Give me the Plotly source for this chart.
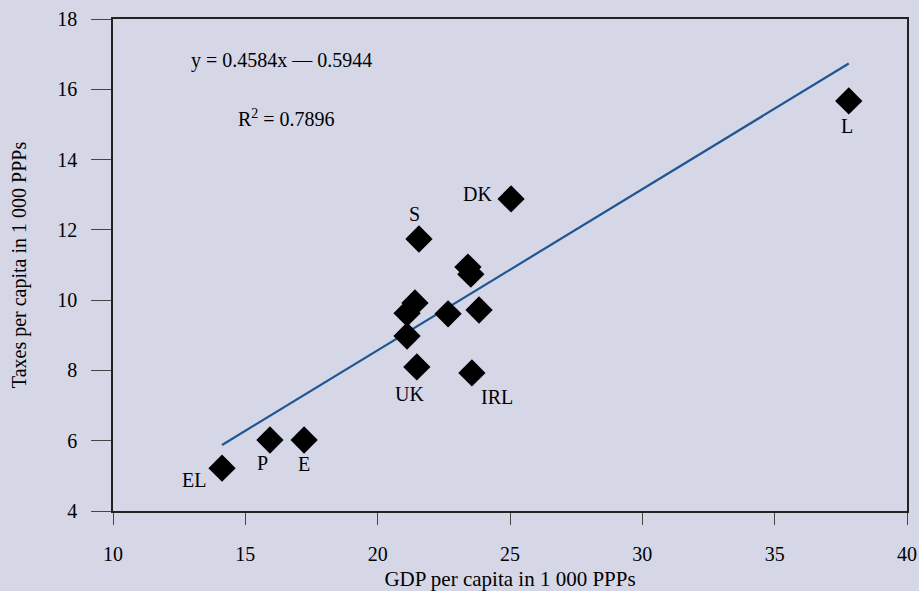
import plotly.graph_objects as go

gdp = [14.12, 15.93, 17.22, 21.48, 23.56, 21.56, 25.04, 37.80,
       23.41, 23.52, 21.41, 21.11, 22.66, 23.83, 21.11]
taxes = [5.22, 6.02, 6.02, 8.10, 7.93, 11.74, 12.88, 15.67,
         10.94, 10.74, 9.92, 9.63, 9.61, 9.72, 8.98]
labels = ["EL", "P", "E", "UK", "IRL", "S", "DK", "L",
          "", "", "", "", "", "", ""]
slope = 0.4584
intercept = -0.5944
x_ticks = [10, 15, 20, 25, 30, 35, 40]
y_ticks = [4, 6, 8, 10, 12, 14, 16, 18]

# label offsets in pixels (dx, dy)
offsets = {"EL": (-28, -12), "P": (-7, -23), "E": (0, -24), "UK": (-7, -27),
           "IRL": (25, -24), "S": (-4, 25), "DK": (-34, 5), "L": (-2, -25)}

bg = "#d5d7e7"
font = "Liberation Serif, Times New Roman, serif"
fs = 20

fig = go.Figure()
xmin, xmax = min(gdp), max(gdp)
fig.add_trace(go.Scatter(
    x=[xmin, xmax], y=[slope * xmin + intercept, slope * xmax + intercept],
    mode="lines", line=dict(color="#1f5592", width=2.2), hoverinfo="skip"))
fig.add_trace(go.Scatter(
    x=gdp, y=taxes, mode="markers",
    marker=dict(symbol="diamond", size=21, color="black", line=dict(width=0))))

for x, y, lab in zip(gdp, taxes, labels):
    if lab:
        dx, dy = offsets[lab]
        fig.add_annotation(x=x, y=y, text=lab, showarrow=False,
                           xshift=dx, yshift=dy,
                           font=dict(family=font, size=fs, color="black"))

fig.add_annotation(x=16.38, y=16.81, text="y = 0.4584x \u2014 0.5944", showarrow=False,
                   font=dict(family=font, size=fs, color="black"))
fig.add_annotation(x=16.54, y=15.18, text="R<sup>2</sup> = 0.7896", showarrow=False,
                   font=dict(family=font, size=fs, color="black"))

axis_common = dict(showline=True, linecolor="#222", linewidth=1.5, mirror=True,
                   ticks="outside", tickcolor="#444", tickwidth=1.2,
                   showgrid=False, zeroline=False, automargin=False,
                   tickfont=dict(family=font, size=fs, color="black"))

fig.update_xaxes(range=[10, 40], tickvals=x_ticks, ticklen=12, ticklabelstandoff=12,
                 title=dict(text="GDP per capita in 1 000 PPPs", standoff=8,
                            font=dict(family=font, size=21, color="black")),
                 **axis_common)
fig.update_yaxes(range=[4, 18], tickvals=y_ticks, ticklen=20, ticklabelstandoff=10,
                 title=dict(text="Taxes per capita in 1 000 PPPs", standoff=25,
                            font=dict(family=font, size=fs, color="black")),
                 **axis_common)

fig.update_layout(width=919, height=591, paper_bgcolor=bg, plot_bgcolor=bg,
                  showlegend=False, margin=dict(l=113, r=12, t=19, b=80))

post = ("var s='margin:0;padding:0;overflow:hidden;width:919px;height:591px;';"
        "document.documentElement.style.cssText=s;document.body.style.cssText=s;")
fig.write_html("out.html", post_script=post, config={"displayModeBar": False})
